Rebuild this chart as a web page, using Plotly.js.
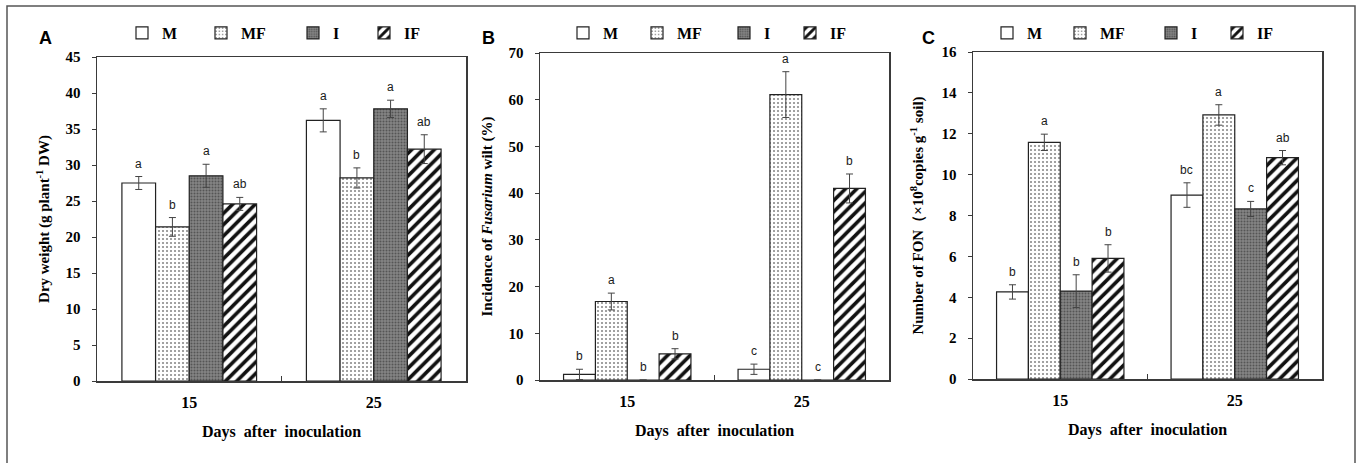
<!DOCTYPE html>
<html>
<head>
<meta charset="utf-8">
<script src="https://cdn.plot.ly/plotly-3.0.1.min.js"></script>
<style>html,body{margin:0;padding:0;background:#fff;}#chart{width:1359px;height:463px;}</style>
</head>
<body>
<div id="chart"></div>
<script>
// ---------------- DATA ----------------
const days = ['15', '25'];
const treatments = ['M', 'MF', 'I', 'IF'];

// Panel A: Dry weight (g plant-1 DW)
const dwM = [27.5, 36.2];
const dwMF = [21.4, 28.2];
const dwI = [28.5, 37.8];
const dwIF = [24.6, 32.2];
const dwErrM = [0.9, 1.6];
const dwErrMF = [1.3, 1.4];
const dwErrI = [1.6, 1.2];
const dwErrIF = [0.9, 2.0];
const dwLetM = ['a', 'a'];
const dwLetMF = ['b', 'b'];
const dwLetI = ['a', 'a'];
const dwLetIF = ['ab', 'ab'];

// Panel B: Incidence of Fusarium wilt (%)
const incM = [1.2, 2.3];
const incMF = [16.8, 61.1];
const incI = [0, 0];
const incIF = [5.6, 41.0];
const incErrM = [1.1, 1.1];
const incErrMF = [1.8, 4.9];
const incErrI = [0, 0];
const incErrIF = [1.1, 3.1];
const incLetM = ['b', 'c'];
const incLetMF = ['a', 'a'];
const incLetI = ['b', 'c'];
const incLetIF = ['b', 'b'];

// Panel C: Number of FON (x10^8 copies g-1 soil)
const fonM = [4.26, 9.0];
const fonMF = [11.58, 12.92];
const fonI = [4.3, 8.32];
const fonIF = [5.9, 10.83];
const fonErrM = [0.35, 0.6];
const fonErrMF = [0.4, 0.5];
const fonErrI = [0.8, 0.37];
const fonErrIF = [0.67, 0.35];
const fonLetM = ['b', 'bc'];
const fonLetMF = ['a', 'a'];
const fonLetI = ['b', 'c'];
const fonLetIF = ['b', 'ab'];

const yRangeA = [0, 45], yDtickA = 5;
const yRangeB = [0, 70], yDtickB = 10;
const yRangeC = [0, 16], yDtickC = 2;

// ---------------- LAYOUT HELPERS ----------------
const W = 1359, H = 463;
const px = p => p / W;
const py = p => 1 - p / H;
const serif = 'Liberation Serif, Times New Roman, serif';
const sans = 'Liberation Sans, Arial, sans-serif';
const axisColor = '#3a3a3a';
const BARGAP = 0.27;

const styles = {
  M:  {color: '#ffffff', pattern: {shape: ''}},
  MF: {color: '#ffffff', pattern: {shape: '.', fgcolor: '#8a8a8a', bgcolor: '#ffffff', size: 4, solidity: 0.22, fillmode: 'replace'}},
  I:  {color: '#7e7e7e', pattern: {shape: '.', fgcolor: '#555555', bgcolor: '#858585', size: 3, solidity: 0.35, fillmode: 'replace'}},
  IF: {color: '#ffffff', pattern: {shape: '/', fgcolor: '#111111', bgcolor: '#ffffff', size: 8, solidity: 0.45, fillmode: 'replace'}}
};

const panels = [
  {label: 'A', xa: 'x', ya: 'y', xd: [97, 466], yd: [57, 381], range: yRangeA, dtick: yDtickA,
   vals: [dwM, dwMF, dwI, dwIF], errs: [dwErrM, dwErrMF, dwErrI, dwErrIF], lets: [dwLetM, dwLetMF, dwLetI, dwLetIF],
   legText: [158, 237, 329, 400], labelX: 45,
   ytitle: 'Dry weight (g plant<sup>-1</sup> DW)', ytStand: 12},
  {label: 'B', xa: 'x2', ya: 'y2', xd: [540, 889], yd: [53, 380], range: yRangeB, dtick: yDtickB,
   vals: [incM, incMF, incI, incIF], errs: [incErrM, incErrMF, incErrI, incErrIF], lets: [incLetM, incLetMF, incLetI, incLetIF],
   legText: [599, 673, 760, 826], labelX: 488,
   ytitle: 'Incidence of <i>Fusarium</i> wilt (%)', ytStand: 12},
  {label: 'C', xa: 'x3', ya: 'y3', xd: [973, 1322], yd: [52, 379], range: yRangeC, dtick: yDtickC,
   vals: [fonM, fonMF, fonI, fonIF], errs: [fonErrM, fonErrMF, fonErrI, fonErrIF], lets: [fonLetM, fonLetMF, fonLetI, fonLetIF],
   legText: [1023, 1096, 1187, 1253], labelX: 928,
   ytitle: 'Number of FON（×10<sup>8</sup>copies g<sup>-1</sup> soil)', ytStand: 14}
];

const data = [];
const annotations = [];
const layout = {
  width: W, height: H,
  margin: {l: 0, r: 0, t: 0, b: 0, pad: 0},
  paper_bgcolor: '#ffffff', plot_bgcolor: '#ffffff',
  barmode: 'group', bargap: BARGAP, bargroupgap: 0,
  font: {family: serif, color: '#000'},
  showlegend: true,
  shapes: [{type: 'rect', xref: 'paper', yref: 'paper', x0: px(7), x1: px(1355), y0: -0.05, y1: py(6),
            line: {color: '#555555', width: 1.5}, fillcolor: 'rgba(0,0,0,0)', layer: 'above'}]
};

let legIdx = 0;
panels.forEach((p, pi) => {
  const suffix = pi === 0 ? '' : String(pi + 1);
  layout['xaxis' + suffix] = {
    domain: [px(p.xd[0]), px(p.xd[1])], anchor: p.ya, type: 'category',
    showline: true, mirror: true, linecolor: axisColor, linewidth: 1.5,
    ticks: 'inside', tickson: 'boundaries', ticklen: 5, tickcolor: axisColor, tickwidth: 1,
    tickfont: {family: serif, size: 16, weight: 'bold', color: '#000'}, ticklabelstandoff: 6,
    title: {text: 'Days&nbsp; after&nbsp; inoculation', standoff: 16,
            font: {family: serif, size: 16, weight: 'bold', color: '#000'}},
    showgrid: false, zeroline: false, fixedrange: true
  };
  layout['yaxis' + suffix] = {
    domain: [py(p.yd[1]), py(p.yd[0])], anchor: p.xa, range: p.range, dtick: p.dtick,
    showline: true, mirror: true, linecolor: axisColor, linewidth: 1.5,
    ticks: 'outside', ticklen: 4, tickcolor: axisColor, tickwidth: 1,
    tickfont: {family: serif, size: 15, weight: 'bold', color: '#000'}, ticklabelstandoff: 8,
    title: {text: p.ytitle, standoff: p.ytStand,
            font: {family: serif, size: 15, weight: 'bold', color: '#000'}},
    showgrid: false, zeroline: false, fixedrange: true
  };

  treatments.forEach((t, j) => {
    legIdx++;
    const legName = legIdx === 1 ? 'legend' : 'legend' + legIdx;
    const st = styles[t];
    data.push({
      type: 'bar', name: t, x: days, y: p.vals[j], xaxis: p.xa, yaxis: p.ya,
      legend: legName, showlegend: true,
      marker: {color: st.color, line: {color: '#222222', width: 1.2}, pattern: st.pattern},
      error_y: {type: 'data', array: p.errs[j], visible: true, color: '#444444', thickness: 1, width: 3.5},
      hoverinfo: 'skip'
    });
    layout[legName] = {
      x: px(p.legText[j] - 40 + 4), y: py(33), xanchor: 'left', yanchor: 'middle',
      orientation: 'h', bgcolor: 'rgba(0,0,0,0)', borderwidth: 0,
      font: {family: serif, size: 16, weight: 'bold', color: '#000'}
    };
    // significance letters above error bars
    const barW = (1 - BARGAP) / treatments.length;
    days.forEach((d, i) => {
      annotations.push({
        xref: p.xa, yref: p.ya, x: i + (j - (treatments.length - 1) / 2) * barW,
        y: p.vals[j][i] + p.errs[j][i], yanchor: 'bottom', xanchor: 'center', yshift: 4,
        text: p.lets[j][i], showarrow: false,
        font: {family: sans, size: 12, color: '#1a1a1a'}
      });
    });
  });

  // panel label
  annotations.push({xref: 'paper', yref: 'paper', x: px(p.labelX), y: py(38), xanchor: 'center', yanchor: 'middle',
    text: '<b>' + p.label + '</b>', showarrow: false, font: {family: sans, size: 18, color: '#000'}});
});
layout.annotations = annotations;

Plotly.newPlot('chart', data, layout, {displayModeBar: false, staticPlot: true});
</script>
</body>
</html>
